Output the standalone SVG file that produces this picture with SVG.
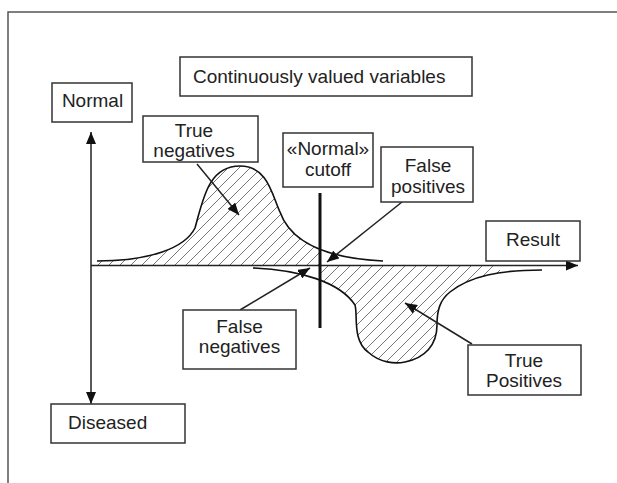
<svg xmlns="http://www.w3.org/2000/svg" width="617" height="483" viewBox="0 0 617 483">
<style>
.box{fill:#fff;stroke:#333;stroke-width:1.5}
.t{font-family:"Liberation Sans",Arial,sans-serif;font-size:19px;fill:#222}
.c{text-anchor:middle}
.ln{fill:none;stroke:#222;stroke-width:1.5}
.curve{fill:none;stroke:#111;stroke-width:1.6}
.frame{fill:none;stroke:#555;stroke-width:1.5}
</style>
<defs>
<marker id="ah" viewBox="0 0 12 10" refX="12" refY="5" markerWidth="12" markerHeight="10" markerUnits="userSpaceOnUse" orient="auto">
<path d="M0 0 L12 5 L0 10 Z" fill="#111"/>
</marker>
<pattern id="hatch" patternUnits="userSpaceOnUse" width="11" height="11">
<path d="M0 11 L11 0 M-2 2 L2 -2 M9 13 L13 9" stroke="#777" stroke-width="1"/>
</pattern>
<clipPath id="leftcut"><rect x="0" y="0" width="320" height="483"/></clipPath>
<clipPath id="rightcut"><rect x="320" y="0" width="180" height="483"/></clipPath>
</defs>
<rect width="617" height="483" fill="#fff"/>
<path class="frame" d="M8 483 L8 12 L617 12"/>

<g id="hatching">
<path d="M97 265 L97 261 C150 261,185 248,195 228 C203 200,208 166,240 166 C268 166,272 195,280 212 C290 240,320 258,383 261 L383 265 Z" fill="url(#hatch)" clip-path="url(#leftcut)"/>
<path d="M253 265 L253 268 C300 270,340 282,355 305 C358 315,352 340,368 352 C380 363,395 364,405 362 C425 358,437 345,437 325 C437 310,440 300,450 292 C470 276,500 270,542 270 L542 265 Z" fill="url(#hatch)" clip-path="url(#rightcut)"/>
</g>

<g id="curves">
<path class="curve" d="M97 261 C150 261,185 248,195 228 C203 200,208 166,240 166 C268 166,272 195,280 212 C290 240,320 258,383 261"/>
<path class="curve" d="M253 268 C300 270,340 282,355 305 C358 315,352 340,368 352 C380 363,395 364,405 362 C425 358,437 345,437 325 C437 310,440 300,450 292 C470 276,500 270,542 270"/>
</g>

<g id="connectors">
<line class="ln" x1="91" y1="265.5" x2="578" y2="265.5" marker-end="url(#ah)"/>
<line class="ln" x1="91" y1="265" x2="91" y2="132" marker-end="url(#ah)"/>
<line class="ln" x1="91" y1="265" x2="91" y2="404" marker-end="url(#ah)"/>
<line x1="320" y1="193" x2="320" y2="328" stroke="#111" stroke-width="3"/>
<line class="ln" x1="197" y1="164" x2="239" y2="215" marker-end="url(#ah)"/>
<line class="ln" x1="402" y1="202" x2="327" y2="262" marker-end="url(#ah)"/>
<line class="ln" x1="240" y1="310" x2="310" y2="268" marker-end="url(#ah)"/>
<line class="ln" x1="472" y1="344" x2="405" y2="303" marker-end="url(#ah)"/>
</g>

<g id="title">
<rect class="box" x="180" y="57" width="292" height="39"/>
<text class="t" x="193" y="83">Continuously valued variables</text>
</g>
<g id="normal">
<rect class="box" x="52" y="83" width="80" height="39"/>
<text class="t c" x="92.5" y="107">Normal</text>
</g>
<g id="diseased">
<rect class="box" x="51" y="404" width="134" height="39"/>
<text class="t" x="68" y="429">Diseased</text>
</g>
<g id="true-negatives">
<rect class="box" x="143" y="116" width="115" height="46"/>
<text class="t c" x="194" y="137">True</text>
<text class="t c" x="194" y="157">negatives</text>
</g>
<g id="cutoff">
<rect class="box" x="283" y="133" width="90" height="54"/>
<text class="t c" x="328" y="155">«Normal»</text>
<text class="t c" x="328" y="176">cutoff</text>
</g>
<g id="false-positives">
<rect class="box" x="381" y="147" width="92" height="55"/>
<text class="t c" x="428" y="172">False</text>
<text class="t c" x="428" y="193">positives</text>
</g>
<g id="result">
<rect class="box" x="486" y="221" width="94" height="40"/>
<text class="t c" x="533" y="246">Result</text>
</g>
<g id="false-negatives">
<rect class="box" x="183" y="310" width="113" height="59"/>
<text class="t c" x="239.5" y="333">False</text>
<text class="t c" x="239.5" y="353">negatives</text>
</g>
<g id="true-positives">
<rect class="box" x="468" y="345" width="113" height="50"/>
<text class="t c" x="524" y="367">True</text>
<text class="t c" x="524" y="387">Positives</text>
</g>
</svg>
